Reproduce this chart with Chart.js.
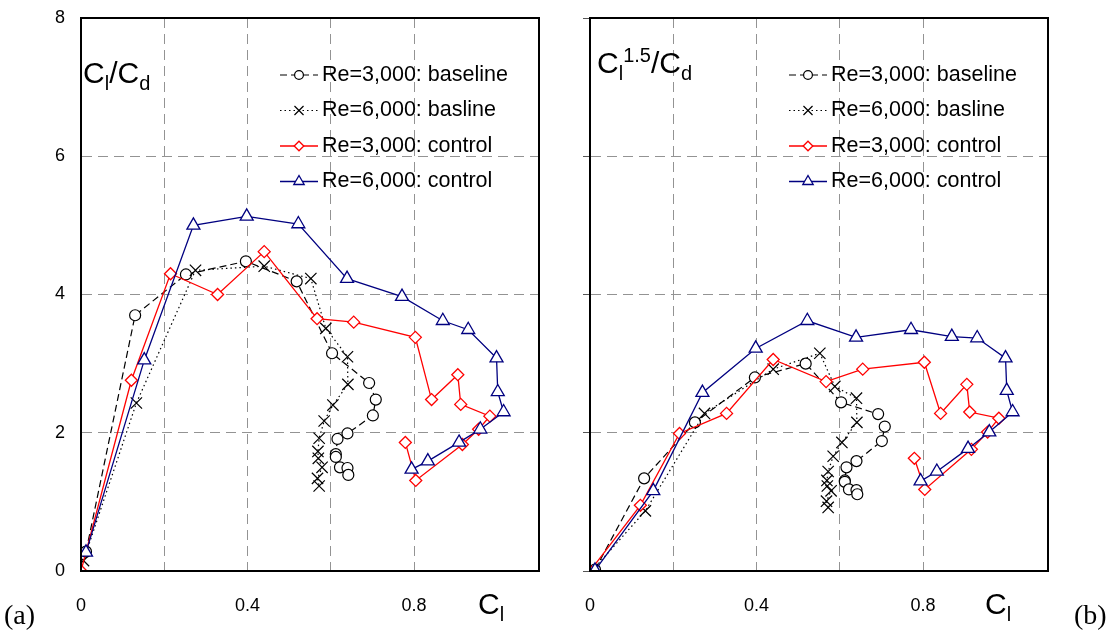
<!DOCTYPE html>
<html lang="en">
<head>
<meta charset="UTF-8">
<title>Cl/Cd and Cl^1.5/Cd, baseline vs control</title>
<script src="https://cdn.jsdelivr.net/npm/chart.js@4.4.1/dist/chart.umd.min.js"></script>
<style>
    body { margin: 0; background: #fff; font-family: "Liberation Sans", Arial, sans-serif; }
    #wrap { position: relative; width: 1114px; height: 635px; overflow: hidden; }
    canvas { position: absolute; top: 0; }
    .lbl { position: absolute; font-size: 30px; line-height: 1; white-space: nowrap; color: #000; }
    .lbl sub, .lbl sup { font-size: 20px; line-height: 0; }
    .tag { position: absolute; font-family: "Liberation Serif", "Times New Roman", serif; font-size: 28px; line-height: 1; }
</style>
</head>
<body>
<div id="wrap">
    <canvas id="panelA" width="560" height="635" style="left:0"></canvas>
    <canvas id="panelB" width="554" height="635" style="left:560px"></canvas>

    <div class="lbl" style="left:83px; top:58px">C<sub>l</sub>/C<sub>d</sub></div>
    <div class="lbl" style="left:597px; top:48px">C<sub>l</sub><sup>1.5</sup>/C<sub>d</sub></div>
    <div class="lbl" style="left:478px; top:589px">C<sub>l</sub></div>
    <div class="lbl" style="left:985px; top:589px">C<sub>l</sub></div>
    <div class="tag" style="left:4px; top:601px">(a)</div>
    <div class="tag" style="left:1074px; top:601px">(b)</div>
</div>

<script>
// lift coefficient for each angle of attack, one list per case
const clBase3k = [0.012, 0.130, 0.252, 0.396, 0.518, 0.603, 0.692, 0.708, 0.701, 0.640, 0.616, 0.612, 0.612, 0.622, 0.640, 0.642];
const clBase6k = [0.006, 0.133, 0.275, 0.440, 0.552, 0.588, 0.640, 0.641, 0.605, 0.584, 0.572, 0.569, 0.570, 0.579, 0.568, 0.572];
const clCtrl3k = [0.000, 0.121, 0.215, 0.328, 0.440, 0.567, 0.655, 0.803, 0.842, 0.905, 0.912, 0.982, 0.955, 0.916, 0.804, 0.779];
const clCtrl6k = [0.012, 0.152, 0.270, 0.398, 0.522, 0.639, 0.771, 0.869, 0.930, 0.998, 1.001, 1.015, 0.959, 0.908, 0.833, 0.794];

// Cl/Cd
const ldBase3k = [0.28, 3.70, 4.29, 4.48, 4.19, 3.15, 2.72, 2.48, 2.25, 1.99, 1.91, 1.69, 1.65, 1.50, 1.49, 1.39];
const ldBase6k = [0.15, 2.43, 4.35, 4.41, 4.23, 3.51, 3.10, 2.70, 2.40, 2.17, 1.92, 1.73, 1.63, 1.50, 1.34, 1.23];
const ldCtrl3k = [0.00, 2.76, 4.30, 4.00, 4.62, 3.65, 3.60, 3.38, 2.48, 2.84, 2.41, 2.24, 2.05, 1.83, 1.31, 1.86];
const ldCtrl6k = [0.27, 3.05, 5.00, 5.13, 5.02, 4.23, 3.97, 3.62, 3.49, 3.08, 2.59, 2.30, 2.05, 1.86, 1.59, 1.47];

// Cl^1.5/Cd
const endBase3k = [0.02, 1.34, 2.15, 2.80, 3.00, 2.44, 2.27, 2.09, 1.88, 1.59, 1.50, 1.31, 1.29, 1.18, 1.17, 1.11];
const endBase6k = [0.01, 0.87, 2.28, 2.92, 3.15, 2.67, 2.50, 2.15, 1.86, 1.66, 1.44, 1.31, 1.23, 1.16, 1.01, 0.92];
const endCtrl3k = [0.00, 0.95, 1.99, 2.28, 3.06, 2.74, 2.92, 3.02, 2.28, 2.70, 2.30, 2.21, 2.01, 1.76, 1.18, 1.63];
const endCtrl6k = [0.01, 1.16, 2.58, 3.22, 3.62, 3.38, 3.49, 3.39, 3.37, 3.08, 2.61, 2.30, 2.01, 1.77, 1.44, 1.30];

const seriesNames = ['Re=3,000: baseline', 'Re=6,000: basline', 'Re=3,000: control', 'Re=6,000: control'];
const xLabelValues = [0, 0.4, 0.8];

const FONT = '"Liberation Sans", Arial, sans-serif';

const seriesStyle = [
    { color: '#000000', dash: [7, 4],   point: 'circle',   r: 5.5, width: 1.2 },
    { color: '#000000', dash: [1.5, 3], point: 'crossRot', r: 8,   width: 1.2 },
    { color: '#ff0000', dash: [],       point: 'rectRot',  r: 6,   width: 1.3 },
    { color: '#000080', dash: [],       point: 'triangle', r: 7.5, width: 1.3 }
];

function pairs(xs, ys) {
    return xs.map((x, i) => ({ x: x, y: ys[i] }));
}

// frame round the plot area plus the line/marker key in the upper right
const frameAndKey = {
    id: 'frameAndKey',
    afterDraw(chart) {
        const ctx = chart.ctx;
        const a = chart.chartArea;
        ctx.save();
        ctx.setLineDash([]);
        ctx.strokeStyle = '#000';
        ctx.lineWidth = 2;
        ctx.strokeRect(a.left, a.top, a.right - a.left, a.bottom - a.top);

        ctx.font = '21.5px ' + FONT;
        ctx.textBaseline = 'middle';
        seriesNames.forEach((name, i) => {
            const st = seriesStyle[i];
            const y = 75 + i * 35.5;
            const x0 = a.left + 199, x1 = a.left + 237;
            ctx.strokeStyle = st.color;
            ctx.lineWidth = st.width;
            ctx.setLineDash(st.dash);
            ctx.beginPath();
            ctx.moveTo(x0, y);
            ctx.lineTo(x1, y);
            ctx.stroke();
            ctx.setLineDash([]);
            ctx.fillStyle = '#fff';
            Chart.helpers.drawPoint(ctx, { pointStyle: st.point, radius: st.r * 0.8, borderWidth: st.width, rotation: 0 }, (x0 + x1) / 2, y);
            ctx.fillStyle = '#000';
            ctx.fillText(name, a.left + 241, y);
        });
        ctx.restore();
    }
};

function makePanel(id, ySeries, yAxisWidth, padRight, showYLabels) {
    const xs = [clBase3k, clBase6k, clCtrl3k, clCtrl6k];
    const datasets = ySeries.map((ys, i) => {
        const st = seriesStyle[i];
        return {
            label: seriesNames[i],
            data: pairs(xs[i], ys),
            showLine: true,
            borderColor: st.color,
            borderWidth: st.width,
            borderDash: st.dash,
            pointStyle: st.point,
            pointRadius: st.r,
            pointBorderWidth: st.width,
            pointBorderColor: st.color,
            pointBackgroundColor: '#fff',
            order: 4 - i
        };
    });

    return new Chart(document.getElementById(id), {
        type: 'scatter',
        data: { datasets: datasets },
        options: {
            responsive: false,
            animation: false,
            events: [],
            layout: { padding: { top: 18, right: padRight, bottom: 0, left: 0 } },
            plugins: { legend: { display: false }, tooltip: { enabled: false } },
            scales: {
                x: {
                    type: 'linear',
                    min: 0,
                    max: 1.1,
                    afterFit: s => { s.height = 64; s.paddingLeft = 0; s.paddingRight = 0; },
                    ticks: {
                        stepSize: 0.2,
                        autoSkip: false,
                        maxRotation: 0,
                        padding: 24,
                        color: '#000',
                        font: { size: 18, family: FONT },
                        callback: v => {
                            const hit = xLabelValues.find(t => Math.abs(t - v) < 1e-6);
                            return hit === undefined ? '' : String(hit);
                        }
                    },
                    grid: { color: '#939393', lineWidth: 1, drawTicks: false },
                    border: { color: '#000', width: 2, dash: [10, 6] }
                },
                y: {
                    type: 'linear',
                    min: 0,
                    max: 8,
                    afterFit: s => { s.width = yAxisWidth; s.paddingTop = 0; s.paddingBottom = 0; },
                    ticks: {
                        stepSize: 2,
                        display: showYLabels,
                        padding: 16,
                        color: '#000',
                        font: { size: 18, family: FONT }
                    },
                    grid: {
                        color: '#939393',
                        lineWidth: 1,
                        drawTicks: !showYLabels,
                        tickLength: 7,
                        tickColor: '#555',
                        tickBorderDash: []
                    },
                    border: { color: '#000', width: 2, dash: [10, 6] }
                }
            }
        },
        plugins: [frameAndKey]
    });
}

makePanel('panelA', [ldBase3k, ldBase6k, ldCtrl3k, ldCtrl6k], 81, 21, true);
makePanel('panelB', [endBase3k, endBase6k, endCtrl3k, endCtrl6k], 30, 66, false);
</script>
</body>
</html>
